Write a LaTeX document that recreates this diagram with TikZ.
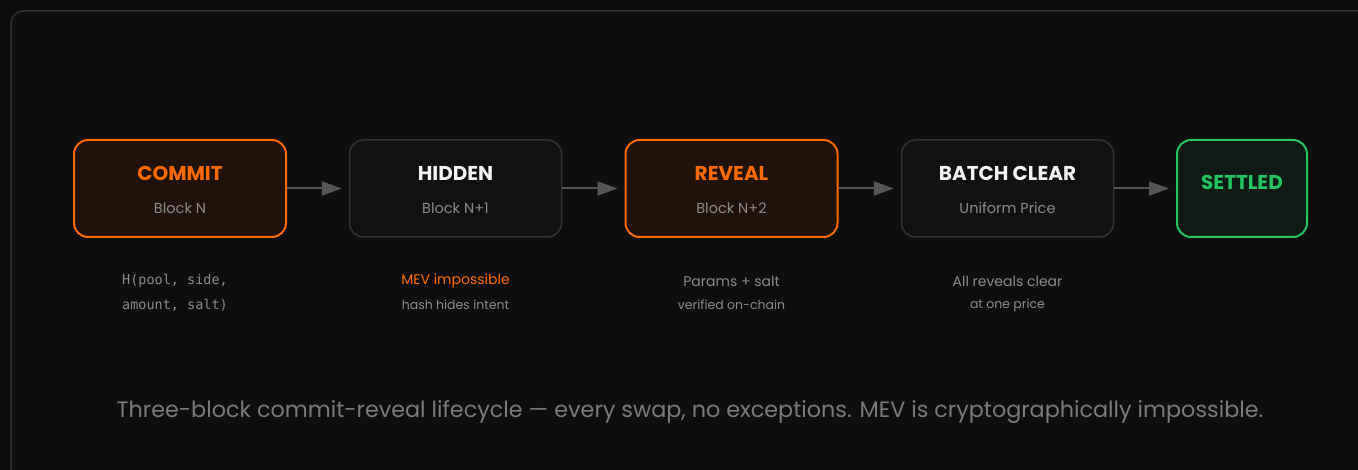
\documentclass[tikz,border=0pt]{standalone}
\usepackage{fontspec}
\setmainfont{Poppins}
\setmonofont{DejaVu Sans Mono}
\usetikzlibrary{arrows.meta}
\definecolor{bgout}{HTML}{0A0A0A}
\definecolor{bgin}{HTML}{0E0E0E}
\definecolor{framec}{HTML}{303030}
\definecolor{orng}{HTML}{FF6A00}
\definecolor{orngfill}{HTML}{201209}
\definecolor{grayfill}{HTML}{111111}
\definecolor{grayedge}{HTML}{333333}
\definecolor{grn}{HTML}{22C55E}
\definecolor{grnfill}{HTML}{0F1A14}
\definecolor{subtext}{HTML}{8A8A8A}
\definecolor{titletext}{HTML}{F2F2F2}
\definecolor{arrowc}{HTML}{555555}
\definecolor{captc}{HTML}{7A7A7A}
\tikzset{
  stagebox/.style={rectangle, rounded corners=14pt, minimum width=212pt, minimum height=97pt, inner sep=0pt},
  hot/.style={stagebox, draw=orng, fill=orngfill, line width=2pt},
  cold/.style={stagebox, draw=grayedge, fill=grayfill, line width=1.5pt},
  done/.style={stagebox, minimum width=130pt, draw=grn, fill=grnfill, line width=2pt},
  ttl/.style={font=\fontsize{20}{23}\selectfont\bfseries, inner sep=0pt},
  sub/.style={font=\fontsize{14.5}{17}\selectfont, text=subtext, inner sep=0pt},
  note/.style={font=\fontsize{14}{16}\selectfont, text=subtext, inner sep=0pt},
  notesm/.style={font=\fontsize{12.5}{15}\selectfont, text=subtext, inner sep=0pt},
  mono/.style={font=\fontsize{13.5}{16}\selectfont\ttfamily, text=subtext, inner sep=0pt, anchor=west},
  flow/.style={draw=arrowc, line width=2pt, -{Triangle[length=20pt,width=14pt]}, shorten >=7pt}
}
\begin{document}
\begin{tikzpicture}[x=1pt,y=-1pt]
\useasboundingbox (0,0) rectangle (1358,470);
\clip (0,0) rectangle (1358,470);
\fill[bgout] (0,0) rectangle (1358,470);
\draw[framec, fill=bgin, line width=1.5pt, rounded corners=12pt] (11,11) rectangle (1390,482);

\node[hot]  (commit) at (180,188.5) {};
\node[cold] (hidden) at (455.5,188.5) {};
\node[hot]  (reveal) at (731.5,188.5) {};
\node[cold] (batch)  at (1007.5,188.5) {};
\node[done] (settled) at (1242,188.5) {};

\node[ttl, text=orng] (commitT) at (180,173) {COMMIT};
\node[sub] (commitS) at (180,208) {Block N};
\node[ttl, text=titletext] (hiddenT) at (455.5,173) {HIDDEN};
\node[sub] (hiddenS) at (455.5,208) {Block N+1};
\node[ttl, text=orng] (revealT) at (731.5,173) {REVEAL};
\node[sub] (revealS) at (731.5,208) {Block N+2};
\node[ttl, text=titletext] (batchT) at (1007.5,173) {BATCH CLEAR};
\node[sub] (batchS) at (1007.5,208) {Uniform Price};
\node[ttl, text=grn] (settledT) at (1242,182) {SETTLED};

\draw[flow] (commit.east) -- (hidden.west);
\draw[flow] (hidden.east) -- (reveal.west);
\draw[flow] (reveal.east) -- (batch.west);
\draw[flow] (batch.east) -- (settled.west);

\node[mono] (n1a) at (122,281) {H(pool, side,};
\node[mono] (n1b) at (122,305) {amount, salt)};
\node[note, text=orng] (n2a) at (455.5,281) {MEV impossible};
\node[notesm] (n2b) at (455.5,305) {hash hides intent};
\node[note] (n3a) at (731.5,281) {Params + salt};
\node[notesm] (n3b) at (731.5,305) {verified on-chain};
\node[note] (n4a) at (1007.5,281) {All reveals clear};
\node[notesm] (n4b) at (1007.5,305) {at one price};

\node[font=\fontsize{22.3}{25}\selectfont, text=captc, inner sep=0pt] (cap) at (690,412) {Three-block commit-reveal lifecycle — every swap, no exceptions. MEV is cryptographically impossible.};
\end{tikzpicture}
\end{document}
